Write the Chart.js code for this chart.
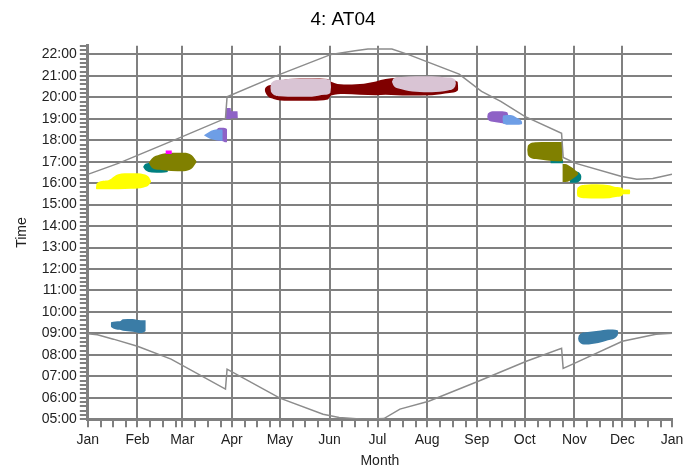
<!DOCTYPE html>
<html>
<head>
<meta charset="utf-8">
<script src="https://cdn.jsdelivr.net/npm/chart.js@4.4.1/dist/chart.umd.min.js"></script>
<style>
  html, body { margin: 0; padding: 0; background: #fff; }
</style>
</head>
<body>
<canvas id="chart" width="699" height="468"></canvas>
<script>
// x axis: day of year, month starts carry the labels
const monthDays = [0, 31, 59, 90, 120, 151, 181, 212, 243, 273, 304, 334, 365];
const monthLabels = ['Jan', 'Feb', 'Mar', 'Apr', 'May', 'Jun', 'Jul', 'Aug', 'Sep', 'Oct', 'Nov', 'Dec', 'Jan'];
const minorDayOffsets = [8, 16, 24];

// sunset / sunrise (hours)
const sunsetDays  = [0, 19, 55, 86, 87, 120, 152, 167, 175, 190, 200, 232, 246, 258, 273, 296, 297, 305, 333, 343, 353, 365];
const sunsetHours = [16.41, 16.92, 18.04, 19.02, 20.02, 21.07, 22.0, 22.17, 22.25, 22.25, 22.0, 21.08, 20.28, 19.81, 19.11, 18.32, 17.2, 16.92, 16.32, 16.18, 16.22, 16.41];
const sunriseDays  = [0, 6, 16, 31, 52, 86, 87, 120, 147, 157, 172, 185, 195, 213, 244, 274, 296, 297, 304, 334, 355, 365];
const sunriseHours = [8.98, 8.93, 8.73, 8.4, 7.8, 6.4, 7.33, 5.98, 5.23, 5.08, 5.0, 5.03, 5.47, 5.84, 6.77, 7.7, 8.3, 7.37, 7.6, 8.63, 8.96, 9.0];

// flicker patches: day, upper hour, lower hour
const magentaFebDays = [48.5, 52.5];
const magentaFebTop = [17.52, 17.52];
const magentaFebBottom = [17.36, 17.36];

const oliveFebDays = [38, 40, 45, 52, 60, 65, 68];
const oliveFebTop = [16.95, 17.15, 17.33, 17.42, 17.42, 17.3, 17.02];
const oliveFebBottom = [16.95, 16.72, 16.62, 16.57, 16.56, 16.68, 16.98];

const tealFebDays = [34.5, 36, 40, 46, 50];
const tealFebTop = [16.75, 16.9, 16.95, 16.9, 16.8];
const tealFebBottom = [16.75, 16.6, 16.5, 16.48, 16.52];

const blueMarDays = [72.5, 76, 80, 84, 84.3];
const blueMarTop = [18.23, 18.4, 18.5, 18.5, 18.45];
const blueMarBottom = [18.23, 18.08, 18.0, 17.98, 18.0];

const purpleMarDays = [79.5, 80, 83, 86.5, 87];
const purpleMarTop = [18.3, 18.45, 18.58, 18.55, 18.5];
const purpleMarBottom = [18.3, 18.0, 17.98, 17.9, 17.92];

const purpleAprDays = [86, 86.3, 89.2, 89.5, 93.5, 93.8];
const purpleAprTop = [19.0, 19.5, 19.5, 19.35, 19.35, 19.0];
const purpleAprBottom = [19.0, 18.99, 18.99, 19.02, 19.02, 19.0];

const pinkMayDays = [114, 114.5, 120, 130, 140, 148, 151.5, 152];
const pinkMayTop = [20.45, 20.65, 20.82, 20.87, 20.87, 20.85, 20.8, 20.5];
const pinkMayBottom = [20.45, 20.25, 20.05, 20.02, 20.03, 20.12, 20.2, 20.5];

const pinkJulDays = [190, 191, 196, 205, 215, 225, 229.5, 230];
const pinkJulTop = [20.72, 20.88, 20.95, 20.98, 20.98, 20.92, 20.82, 20.65];
const pinkJulBottom = [20.72, 20.55, 20.38, 20.26, 20.24, 20.32, 20.5, 20.65];

const redSummerDays = [110.5, 111, 116, 125, 140, 150, 152, 160, 170, 180, 186, 200, 215, 226, 231, 231.5];
const redSummerTop = [20.35, 20.45, 20.6, 20.85, 20.88, 20.85, 20.72, 20.6, 20.62, 20.74, 20.85, 20.92, 20.92, 20.82, 20.72, 20.4];
const redSummerBottom = [20.35, 20.22, 19.92, 19.84, 19.84, 19.9, 20.08, 20.15, 20.12, 20.1, 20.12, 20.08, 20.1, 20.2, 20.3, 20.4];

const blueSepDays = [259, 259.5, 264, 268, 271, 271.5];
const blueSepTop = [19.0, 19.15, 19.17, 19.05, 18.9, 18.82];
const blueSepBottom = [19.0, 18.78, 18.72, 18.72, 18.74, 18.82];

const purpleSepDays = [249.5, 250, 254, 258, 262, 263];
const purpleSepTop = [19.1, 19.25, 19.35, 19.35, 19.3, 19.1];
const purpleSepBottom = [19.1, 18.95, 18.85, 18.8, 18.75, 18.85];

const oliveOctDays = [274.5, 275, 280, 287, 293, 296.5, 296.7];
const oliveOctTop = [17.55, 17.75, 17.9, 17.92, 17.92, 17.92, 17.92];
const oliveOctBottom = [17.55, 17.3, 17.12, 17.05, 17.02, 17.02, 17.02];

const tealOctDays = [289, 297];
const tealOctTop = [17.1, 17.1];
const tealOctBottom = [16.93, 16.93];

const oliveNovDays = [296.5, 300, 303, 306.5];
const oliveNovTop = [16.9, 16.85, 16.7, 16.47];
const oliveNovBottom = [16.05, 16.07, 16.2, 16.42];

const tealNovDays = [301, 304, 308, 308.5];
const tealNovTop = [16.55, 16.55, 16.4, 16.3];
const tealNovBottom = [16.02, 16.02, 16.15, 16.3];

const yellowJanDays = [5, 5.5, 12, 19, 27, 35, 38, 39.5];
const yellowJanTop = [15.75, 15.98, 16.12, 16.42, 16.46, 16.42, 16.3, 16.1];
const yellowJanBottom = [15.75, 15.72, 15.72, 15.72, 15.74, 15.8, 15.9, 16.05];

const yellowNovDays = [305.5, 306, 311, 318, 326, 330, 334, 334.5, 338.5, 339];
const yellowNovTop = [15.55, 15.78, 15.93, 15.95, 15.9, 15.82, 15.78, 15.7, 15.7, 15.6];
const yellowNovBottom = [15.55, 15.38, 15.3, 15.28, 15.3, 15.35, 15.42, 15.48, 15.48, 15.6];

const blueJanDays = [14.3, 14.5, 20, 22, 28, 33, 36, 36.2];
const blueJanTop = [9.4, 9.52, 9.56, 9.66, 9.67, 9.61, 9.61, 9.6];
const blueJanBottom = [9.4, 9.3, 9.17, 9.12, 9.08, 9.02, 9.1, 9.12];

const blueNovDays = [306.3, 306.8, 311, 319, 325, 331, 331.5];
const blueNovTop = [8.75, 8.9, 9.05, 9.12, 9.18, 9.15, 9.05];
const blueNovBottom = [8.75, 8.62, 8.48, 8.55, 8.68, 8.9, 9.05];

const GRID = '#808080';
const FONT = 'Liberation Sans, Arial, sans-serif';

function pts(xs, ys) {
    return xs.map((x, i) => ({ x: x, y: ys[i] }));
}

function sunLine(xs, ys) {
    return {
        data: pts(xs, ys), showLine: true, pointRadius: 0,
        borderColor: '#8c8c8c', borderWidth: 1.5, fill: false, tension: 0
    };
}

// upper edge + lower edge filled back to the upper one
function patch(xs, top, bottom, color) {
    const common = { showLine: true, pointRadius: 0, borderWidth: 0, cubicInterpolationMode: 'monotone' };
    return [
        Object.assign({ data: pts(xs, top), fill: false }, common),
        Object.assign({ data: pts(xs, bottom), fill: '-1', backgroundColor: color }, common)
    ];
}

// earlier in the list = drawn on top
const datasets = [
    sunLine(sunsetDays, sunsetHours),
    sunLine(sunriseDays, sunriseHours),
    ...patch(magentaFebDays, magentaFebTop, magentaFebBottom, '#ff00ff'),
    ...patch(oliveFebDays, oliveFebTop, oliveFebBottom, '#808000'),
    ...patch(tealFebDays, tealFebTop, tealFebBottom, '#008080'),
    ...patch(blueMarDays, blueMarTop, blueMarBottom, '#6e9ee6'),
    ...patch(purpleMarDays, purpleMarTop, purpleMarBottom, '#8e62c6'),
    ...patch(purpleAprDays, purpleAprTop, purpleAprBottom, '#8e62c6'),
    ...patch(pinkMayDays, pinkMayTop, pinkMayBottom, '#d9c4d4'),
    ...patch(pinkJulDays, pinkJulTop, pinkJulBottom, '#d9c4d4'),
    ...patch(redSummerDays, redSummerTop, redSummerBottom, '#800000'),
    ...patch(blueSepDays, blueSepTop, blueSepBottom, '#6e9ee6'),
    ...patch(purpleSepDays, purpleSepTop, purpleSepBottom, '#8e62c6'),
    ...patch(oliveOctDays, oliveOctTop, oliveOctBottom, '#808000'),
    ...patch(tealOctDays, tealOctTop, tealOctBottom, '#008080'),
    ...patch(oliveNovDays, oliveNovTop, oliveNovBottom, '#808000'),
    ...patch(tealNovDays, tealNovTop, tealNovBottom, '#008080'),
    ...patch(yellowJanDays, yellowJanTop, yellowJanBottom, '#ffff00'),
    ...patch(yellowNovDays, yellowNovTop, yellowNovBottom, '#ffff00'),
    ...patch(blueJanDays, blueJanTop, blueJanBottom, '#3a7ca6'),
    ...patch(blueNovDays, blueNovTop, blueNovBottom, '#3a7ca6')
];

const xTicks = [];
monthDays.forEach((d, i) => {
    xTicks.push(d);
    if (i < 12) minorDayOffsets.forEach(o => xTicks.push(d + o));
});
const yTicks = [];
for (let k = 0; k <= 87; k++) yTicks.push(Math.round((5 + k * 0.2) * 10) / 10);

new Chart(document.getElementById('chart'), {
    type: 'scatter',
    data: { datasets: datasets },
    options: {
        responsive: false,
        animation: false,
        layout: { padding: { left: 14, right: 27, top: 0, bottom: 0 } },
        plugins: {
            legend: { display: false },
            tooltip: { enabled: false },
            title: {
                display: true, text: '4: AT04', color: '#000',
                font: { family: FONT, size: 19, weight: 'normal' },
                padding: { top: 8, bottom: 15 }
            }
        },
        scales: {
            x: {
                type: 'linear', min: 0, max: 365, z: 1,
                afterBuildTicks: axis => { axis.ticks = xTicks.map(v => ({ value: v })); },
                ticks: {
                    autoSkip: false, maxRotation: 0, color: '#222', padding: 5,
                    font: { family: FONT, size: 14 },
                    callback: v => { const i = monthDays.indexOf(v); return i >= 0 ? monthLabels[i] : ''; }
                },
                grid: {
                    lineWidth: 2, tickLength: 8, tickColor: GRID, tickWidth: 2,
                    color: c => (c.tick && monthDays.includes(c.tick.value) && c.tick.value !== 365) ? GRID : 'rgba(0,0,0,0)'
                },
                border: { color: GRID, width: 3 },
                title: {
                    display: true, text: 'Month', color: '#222',
                    font: { family: FONT, size: 14, lineHeight: 1 }, padding: { top: 0, bottom: 0 }
                }
            },
            y: {
                min: 5, max: 22.4, z: 1,
                afterBuildTicks: axis => { axis.ticks = yTicks.map(v => ({ value: v })); },
                ticks: {
                    autoSkip: false, color: '#222', padding: 3,
                    font: { family: FONT, size: 14 },
                    callback: v => Number.isInteger(v) ? String(v).padStart(2, '0') + ':00' : ''
                },
                grid: {
                    lineWidth: 2, tickLength: 8, tickColor: GRID, tickWidth: 2,
                    color: c => (c.tick && Number.isInteger(c.tick.value)) ? GRID : 'rgba(0,0,0,0)'
                },
                border: { color: GRID, width: 3 },
                title: {
                    display: true, text: 'Time', color: '#222',
                    font: { family: FONT, size: 14 }, padding: { top: 0, bottom: 8 }
                }
            }
        }
    }
});
</script>
</body>
</html>
